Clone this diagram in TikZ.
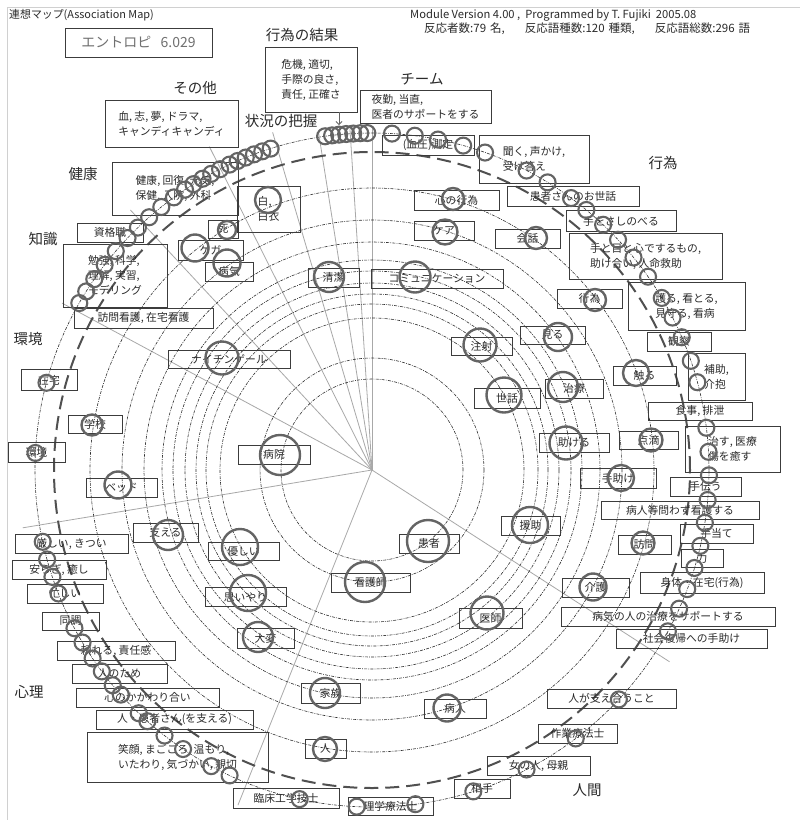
\documentclass[tikz,border=0pt]{standalone}
\usepackage{fontspec}
\setmainfont{Noto Sans CJK JP}
\usetikzlibrary{arrows.meta}
\definecolor{circc}{HTML}{646464}
\definecolor{boxc}{HTML}{3C3C3C}
\definecolor{txtc}{HTML}{2A2A2A}
\definecolor{ringc}{HTML}{303030}
\definecolor{radc}{HTML}{A8A8A8}
\definecolor{dashc}{HTML}{505050}
\definecolor{framec}{HTML}{D0D0D0}
\definecolor{entc}{HTML}{707070}
\newcommand\wb[6]{\node[wbox,minimum width=#4pt,minimum height=#5pt] (#1) at (#2,#3) {#6};}
\newcommand\wc[4]{\node[wcirc,minimum size=#4pt] (#1) at (#2,#3) {};}
\begin{document}
\begin{tikzpicture}[x=1pt,y=-1pt,
 wbox/.style={draw=boxc, line width=0.8pt, inner sep=0pt, outer sep=0pt, text=txtc, font=\fontsize{10.8}{15}\selectfont, align=left},
 wcirc/.style={circle, draw=circc, line width=2.4pt, inner sep=0pt, outer sep=0pt},
 ocirc/.style={circle, draw=circc, line width=2.1pt, inner sep=0pt, minimum size=16pt},
 ring/.style={draw=ringc, line width=0.6pt, dash pattern=on 3pt off 1.2pt on 0.8pt off 1.2pt},
 bigdash/.style={draw=dashc, line width=2pt, dash pattern=on 14pt off 7pt},
 radial/.style={draw=radc, line width=0.8pt},
 cat/.style={text=txtc, font=\fontsize{14.5}{16}\selectfont, inner sep=0pt},
 hdr/.style={anchor=west, text=txtc, inner sep=0pt}]
\useasboundingbox (0,0) rectangle (800,820);
\fill[white] (0,0) rectangle (800,820);
\draw[framec, line width=0.8pt] (7,820) -- (7,7) -- (800,7);
\coordinate (C) at (372,470);
% radial lines
\foreach \a/\l in {151.7/352, 189.4/354, -111.8/361, -32.8/354, 132.9/355, 116.7/362, 106.4/352, 99/342, 93.7/342, 90/342}
  \draw[radial] (C) -- ++({\l*cos(\a)},{-\l*sin(\a)});
% rings
\foreach \r in {91,112,152,166,176,187,199,210,228,250,282,337}
  \draw[ring] (C) circle[radius=\r pt];
\draw[bigdash] (C) circle[radius=318pt];
% header
\node[hdr, font=\fontsize{10.9}{12}\selectfont] (title) at (9,15) {連想マップ(Association Map)};
\node[hdr, font=\fontsize{11.2}{12}\selectfont] (mod1) at (410,15) {Module Version 4.00 ,\ \ Programmed by T. Fujiki\ \ 2005.08};
\node[hdr, font=\fontsize{11.5}{12}\selectfont] (mod2) at (424,29) {反応者数:79\hspace{4pt}名,\hspace{20pt}反応語種数:120\hspace{4pt}種類,\hspace{20pt}反応語総数:296\hspace{4pt}語};
\node[draw=boxc, line width=0.8pt, minimum width=147pt, minimum height=29pt, inner sep=0pt, text=entc, font=\fontsize{14}{15}\selectfont] (ent) at (138.5,42.5) {エントロピ\ \ \ 6.029};
% categories
\node[cat] (catA) at (302,35) {行為の結果};
\node[cat] (catB) at (195,88) {その他};
\node[cat] (catC) at (281,121) {状況の把握};
\node[cat] (catD) at (422,79) {チーム};
\node[cat] (catE) at (663,163) {行為};
\node[cat] (catF) at (83,174) {健康};
\node[cat] (catG) at (43,239) {知識};
\node[cat] (catH) at (28,339) {環境};
\node[cat] (catI) at (29,692) {心理};
\node[cat] (catJ) at (587,790) {人間};
% outer boxes
\wb{kekka}{311}{79.5}{92}{65}{危機, 適切,\\手際の良さ,\\責任, 正確さ}
\wb{team}{425.5}{106.5}{131}{33}{夜勤, 当直,\\医者のサポートをする}
\wb{sonota}{171.5}{123.5}{133}{47}{血, 志, 夢, ドラマ,\\キャンディキャンディ}
\wb{kenko}{175}{188.5}{126}{53}{健康, 回復, 元気,\\保健, 入院, 外科}
\wb{shikaku}{110}{232.5}{66}{19}{資格職}
\wb{benkyo}{115}{275.5}{104}{63}{勉強, 科学,\\理解, 実習,\\モデリング}
\wb{homon}{143.5}{318}{139}{20}{訪問看護, 在宅看護}
\wb{zaitaku}{49}{380}{56}{21}{在宅}
\wb{gakko}{95}{424}{54}{18}{学校}
\wb{kankyo}{36.5}{452}{57}{20}{環境}
\wb{kibishii}{71.5}{543.5}{113}{19}{厳しい, きつい}
\wb{yasuragi}{59}{569.5}{94}{19}{安らぎ, 癒し}
\wb{isogashii}{65}{593.5}{76}{19}{忙しい}
\wb{docho}{70.5}{621}{57}{18}{同調}
\wb{tayoreru}{116}{650.5}{118}{19}{頼れる, 責任感}
\wb{hitonotame}{119.5}{673.5}{95}{19}{人のため}
\wb{kokoro}{147.5}{697.5}{143}{19}{心のかかわり合い}
\wb{hitokanja}{174.5}{719.5}{157}{19}{人・患者さん(を支える)}
\wb{egao}{177.5}{757}{181}{50}{笑顔, まごころ, 温もり,\\いたわり, 気づかい, 親切}
\wb{rinsho}{286}{798}{106}{20}{臨床工学技士}
\wb{rigaku}{390.5}{806}{85}{18}{理学療法士}
\wb{aite}{482}{788.5}{56}{19}{相手}
\wb{onna}{538.5}{765.5}{103}{19}{女の人, 母親}
\wb{sagyo}{577.5}{733.5}{79}{19}{作業療法士}
\wb{sasaeau}{611.5}{698.5}{129}{19}{人が支え合うこと}
\wb{shakai}{691.5}{638.5}{151}{19}{社会復帰への手助け}
\wb{byokisup}{668}{616.5}{214}{19}{病気の人の治療をサポートする}
\wb{shintai}{702}{582.5}{124}{21}{身体・在宅(行為)}
\wb{chikara}{702}{558}{42}{18}{力}
\wb{teate}{716.5}{533.5}{73}{19}{手当て}
\wb{byonintou}{680}{510}{158}{18}{病人等問わず看護する}
\wb{tetsudau}{705.5}{486.5}{71}{19}{手伝う}
\wb{naosu}{732.5}{449}{95}{46}{治す, 医療\\傷を癒す}
\wb{shokuji}{700}{411}{104}{18}{食事, 排泄}
\wb{hojo}{716.5}{376.5}{57}{47}{補助,\\介抱}
\wb{kansatsu}{679}{341.5}{64}{19}{観察}
\wb{mamoru}{686.5}{306}{117}{48}{護る, 看とる,\\見守る, 看病}
\wb{teto}{645.5}{256}{153}{46}{手と目と心でするもの,\\助け合い, 人命救助}
\wb{tewo}{621}{221}{110}{21}{手をさしのべる}
\wb{osewa}{573}{196}{132}{20}{患者さんのお世話}
\wb{kiku}{534}{159}{110}{48}{聞く, 声かけ,\\受け答え}
\wb{ketsuatsu}{428}{145}{92}{20}{(血圧)測定}
% inner boxes
\wb{hakui}{268.5}{209}{63}{46}{白,\\白衣}
\wb{shi}{223}{229}{30}{18}{死}
\wb{kega}{210.5}{250}{65}{20}{ケガ}
\wb{byoki}{229}{271.5}{48}{19}{病気}
\wb{seiketsu}{333.5}{277.5}{51}{19}{清潔}
\wb{comm}{437}{278.5}{132}{19}{コミュニケーション}
\wb{kokoronokoui}{456.5}{200}{85}{20}{心の行為}
\wb{kea}{444}{230.5}{60}{19}{ケア}
\wb{kaiwa}{527.5}{238.5}{65}{19}{会話}
\wb{koui}{589.5}{298.5}{65}{19}{行為}
\wb{miru}{552.5}{335}{65}{18}{見る}
\wb{chusha}{481.5}{346}{61}{18}{注射}
\wb{sewa}{507}{398}{66}{20}{世話}
\wb{chiryo}{574}{388.5}{58}{19}{治療}
\wb{sawaru}{644.5}{375.5}{63}{19}{触る}
\wb{tasukeru}{574}{442.5}{70}{19}{助ける}
\wb{tenteki}{648.5}{440}{59}{18}{点滴}
\wb{tedasuke}{618}{478}{76}{20}{手助け}
\wb{enjo}{530.5}{525.5}{59}{19}{援助}
\wb{homonB}{644.5}{544.5}{53}{19}{訪問}
\wb{kaigo}{595.5}{587.5}{67}{19}{介護}
\wb{ishi}{490.5}{618}{63}{20}{医師}
\wb{byonin}{455}{708.5}{62}{19}{病人}
\wb{hito}{325.5}{748.5}{41}{19}{人}
\wb{kazoku}{330.5}{693}{59}{20}{家族}
\wb{taihen}{265.5}{638}{57}{20}{大変}
\wb{omoiyari}{245.5}{597}{81}{19}{思いやり}
\wb{yasashii}{243.5}{551}{71}{18}{優しい}
\wb{sasaeru}{165.5}{532.5}{65}{19}{支える}
\wb{bed}{121.5}{487.5}{71}{19}{ベッド}
\wb{byoin}{274}{454.5}{72}{19}{病院}
\wb{kanja}{429}{543.5}{60}{19}{患者}
\wb{kangoshi}{370.5}{582.5}{79}{19}{看護師}
\wb{nightingale}{229}{359}{122}{18}{ナイチンゲール}
% inner circles
\wc{byoinC}{280}{455}{40}
\wc{kanjaC}{428}{541}{42}
\wc{kangoshiC}{365}{582}{40}
\wc{enjoC}{530}{525}{36}
\wc{ishiC}{487}{613}{33}
\wc{kaigoC}{593}{587}{27}
\wc{homonBC}{643}{543}{23}
\wc{tedasukeC}{621}{478}{26}
\wc{tasukeruC}{566}{443}{33}
\wc{tentekiC}{651}{440}{23}
\wc{sawaruC}{636}{373}{26}
\wc{chiryoC}{563}{387}{30}
\wc{miruC}{558}{337}{28}
\wc{kouiC}{595}{300}{22}
\wc{kaiwaC}{536}{238}{22}
\wc{keaC}{445}{232}{25}
\wc{kokoroC}{453}{199}{22}
\wc{commC}{415}{277}{31}
\wc{seiketsuC}{329}{277}{30}
\wc{chushaC}{480}{345}{33}
\wc{sewaC}{504}{395}{35}
\wc{hakuiC}{268}{200}{26}
\wc{shiC}{227}{230}{18}
\wc{kegaC}{195}{248}{27}
\wc{byokiC}{227}{263}{27}
\wc{nightC}{222}{358}{33}
\wc{bedC}{118}{485}{27}
\wc{sasaeruC}{168}{535}{30}
\wc{yasashiiC}{240}{547}{36}
\wc{omoiC}{248}{593}{36}
\wc{taihenC}{258}{637}{30}
\wc{kazokuC}{325}{693}{30}
\wc{hitoC}{325}{749}{24}
\wc{byoninC}{447}{708}{27}
\wc{gakkoC}{92}{425}{21}
% outer circles
\foreach \a [count=\i] in {98,96.8,95.6,94.4,93.2,92,90.8,
  86.6,82.7,78.7,74.3,70.4,62.7,58.6,53.8,50.5,46.7,43.1,39.1,35,30.7,26.9,23.2,18.9,15.1,7.2,3.1,-0.9,-5.1,-9,-13,-16.9,-20.7,-24.3,-28.6,-42.9,-52.8,-62.7,-72.5,-82.6,-92.6,-102.4,-115,-118.5,-124.1,-128,-131.8,-133.8,-138.2,-140.3,-143.3,-146,-149.2,-152,-158.5,-161.5,-164.6,-167.7,177.1,165,
  107.5,109,110.5,112,113.5,115,116.8,118.5,120.2,122,123.7,126,128.7,131.4,134,136.5,139.5,142.5,145.5,148,150.3}
  \node[ocirc] (oc\i) at ({372+337*cos(\a)},{470-337*sin(\a)}) {};
% arrow
\coordinate (arS) at (339,112);
\coordinate (arT) at (339,125);
\draw[circc, line width=0.8pt, -{Straight Barb[length=3pt,width=6pt]}] (arS) -- (arT);
\end{tikzpicture}
\end{document}
